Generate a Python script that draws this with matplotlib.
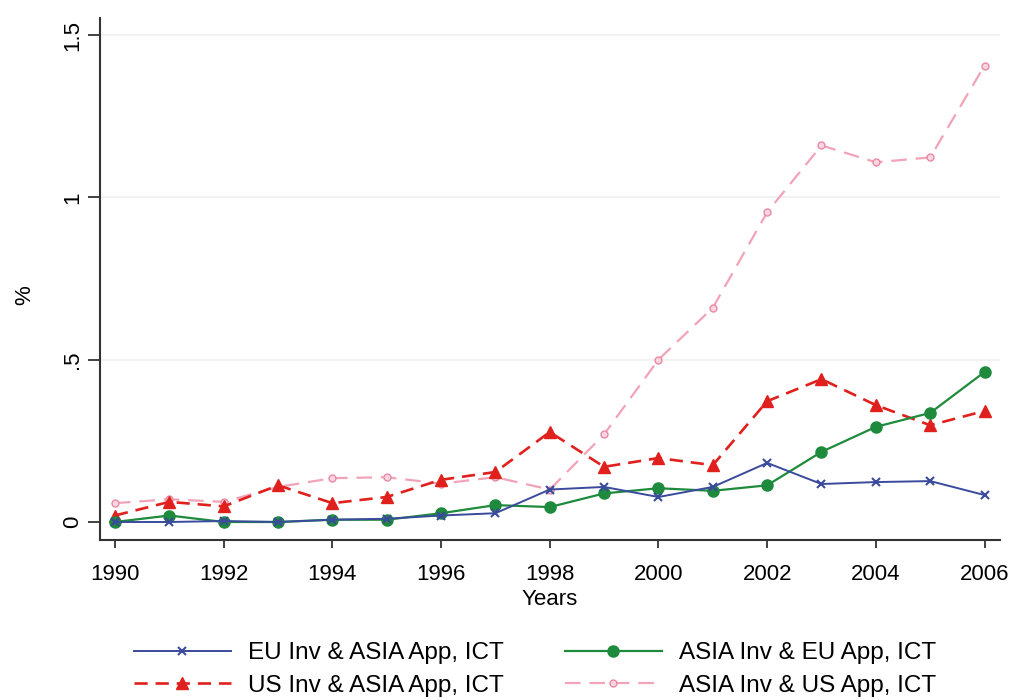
import matplotlib
matplotlib.use("Agg")
import matplotlib.pyplot as plt

years = list(range(1990, 2007))

eu_inv_asia_app = [0.0, 0.0, 0.003, 0.0, 0.007, 0.01, 0.02, 0.027, 0.10, 0.108,
                   0.077, 0.108, 0.182, 0.117, 0.123, 0.126, 0.083]
asia_inv_eu_app = [0.0, 0.02, 0.0, 0.0, 0.007, 0.007, 0.027, 0.052, 0.046, 0.088,
                   0.104, 0.096, 0.113, 0.216, 0.293, 0.336, 0.462]
us_inv_asia_app = [0.02, 0.062, 0.048, 0.113, 0.058, 0.077, 0.13, 0.154, 0.277, 0.17,
                   0.197, 0.175, 0.372, 0.44, 0.36, 0.298, 0.342]
asia_inv_us_app = [0.058, 0.07, 0.062, 0.108, 0.135, 0.138, 0.118, 0.138, 0.10, 0.27,
                   0.50, 0.66, 0.954, 1.16, 1.108, 1.123, 1.406]

labels = ["EU Inv & ASIA App, ICT", "ASIA Inv & EU App, ICT",
          "US Inv & ASIA App, ICT", "ASIA Inv & US App, ICT"]

yticks = [0, 0.5, 1, 1.5]
yticklabels = ["0", ".5", "1", "1.5"]
xticks = list(range(1990, 2007, 2))

plt.rcParams["font.family"] = ["Liberation Sans", "DejaVu Sans"]

fig = plt.figure(figsize=(10.13, 7.0), dpi=100)
ax = fig.add_axes([0.0987, 0.2286, 0.888, 0.745])

ax.set_ylim(-0.0554, 1.551)
ax.set_xlim(1989.724, 2006.276)

for y in [0.5, 1, 1.5]:
    ax.axhline(y, color="#f0f0f0", lw=1.2, zorder=0)

l1, = ax.plot(years, eu_inv_asia_app, color="#3a4a9c", lw=1.4, marker="x",
              ms=6, mew=1.5, label=labels[0], zorder=4)
l2, = ax.plot(years, asia_inv_eu_app, color="#1e8a3c", lw=1.6, marker="o",
              ms=8, label=labels[1], zorder=3)
l3, = ax.plot(years, us_inv_asia_app, color="#e0201c", lw=1.9, ls=(0, (5, 3)),
              marker="^", ms=9, label=labels[2], zorder=2)
l4, = ax.plot(years, asia_inv_us_app, color="#f2a3b8", lw=1.6, ls=(0, (7, 4)),
              marker="o", ms=5, mfc="#fbd6e0", mec="#e88aa5", label=labels[3],
              zorder=1)

for s in ["top", "right"]:
    ax.spines[s].set_visible(False)
for s in ["left", "bottom"]:
    ax.spines[s].set_color("#333333")
    ax.spines[s].set_linewidth(1.5)

ax.set_yticks(yticks)
ax.set_yticklabels(yticklabels, rotation=90, va="center")
ax.set_xticks(xticks)
ax.tick_params(axis="both", labelsize=16, width=1.3, color="#333333",
               direction="out")
ax.tick_params(axis="y", length=9, pad=3)
ax.tick_params(axis="x", length=6, pad=11)

ax.set_ylabel("%", fontsize=16)
ax.yaxis.set_label_coords(-0.072, 0.47)
ax.set_xlabel("Years", fontsize=16, labelpad=3)

fig.legend(handles=[l1, l3, l2, l4],
           labels=[labels[0], labels[2], labels[1], labels[3]],
           loc="center", bbox_to_anchor=(0.528, 0.0436), ncol=2, frameon=False,
           fontsize=17.5, handlelength=4.0, columnspacing=2.5, labelspacing=0.45,
           handletextpad=0.7, borderpad=0)

fig.savefig("out.png", dpi=100)
